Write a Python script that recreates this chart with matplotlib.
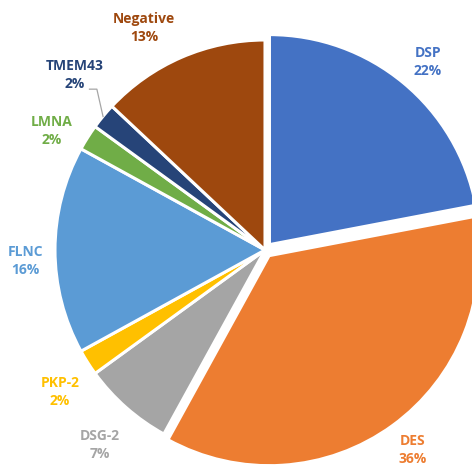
import numpy as np
import matplotlib.pyplot as plt

genes = ["DSP", "DES", "DSG-2", "PKP-2", "FLNC", "LMNA", "TMEM43", "Negative"]
shares = [22, 36, 7, 2, 16, 2, 2, 13]
colors = ["#4472C4", "#ED7D31", "#A5A5A5", "#FFC000",
          "#5B9BD5", "#70AD47", "#264478", "#9E480E"]
pulled_out = [True, True, False, False, False, False, False, False]

# label placement: polar angle (deg) and distance as a multiple of the radius
label_angle = [49.1, -53.5, -130.2, -145.3, -177.4, 150.8, 137.4, 118.6]
label_dist = [1.185, 1.185, 1.216, 1.188, 1.144, 1.162, 1.23, 1.204]

W, H = 472, 466
fig = plt.figure(figsize=(W / 100, H / 100), dpi=100)
ax = fig.add_axes([0, 0, 1, 1])

cx, cy, R = 265, H - 250, 210
explode = [7 if p else 0 for p in pulled_out]

wedges, _ = ax.pie(shares, colors=colors, startangle=90, counterclock=False,
                   center=(cx, cy), radius=R, explode=explode,
                   wedgeprops=dict(edgecolor="white", linewidth=2.2))

ax.set_xlim(0, W)
ax.set_ylim(0, H)
ax.set_aspect("equal")
ax.axis("off")

for g, s, c, a, d in zip(genes, shares, colors, label_angle, label_dist):
    t = np.deg2rad(a)
    ax.text(cx + d * R * np.cos(t), cy + d * R * np.sin(t), f"{g}\n{s}%",
            ha="center", va="center", color=c, fontsize=10,
            fontweight="bold", family="Open Sans", linespacing=1.38)

# leader line for the thin TMEM43 slice
i = genes.index("TMEM43")
start = 90 - 3.6 * sum(shares[:i])
mid = np.deg2rad(start - 3.6 * shares[i] / 2)
ex, ey = cx + R * np.cos(mid), cy + R * np.sin(mid)
ta = np.deg2rad(label_angle[i])
lx = cx + label_dist[i] * R * np.cos(ta)
ly = cy + label_dist[i] * R * np.sin(ta)
ax.plot([lx + 14, lx + 22, ex], [ly - 14, ly - 14, ey - 1],
        color="#A6A6A6", lw=0.9, solid_capstyle="butt")

fig.savefig("out.png", dpi=100)
